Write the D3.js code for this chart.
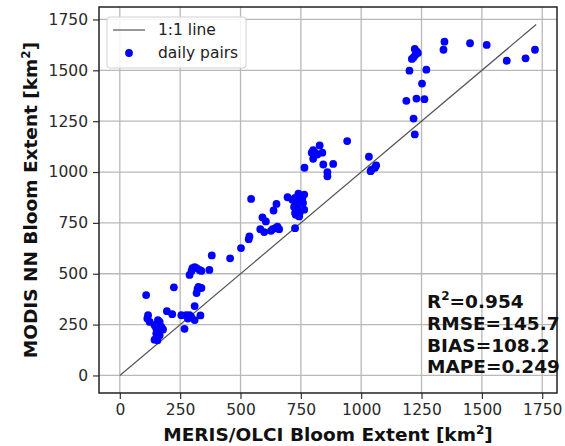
<!DOCTYPE html>
<html>
<head>
<meta charset="utf-8">
<script src="https://cdn.jsdelivr.net/npm/d3@7"></script>
<style>
  html, body { margin: 0; padding: 0; background: #fff; }
  svg { display: block; }
  text { font-family: "DejaVu Sans", sans-serif; }
</style>
</head>
<body>
<svg id="chart" width="565" height="446"></svg>
<script>
// ---- data ----
const ticks = [0, 250, 500, 750, 1000, 1250, 1500, 1750];
const oneToOne = [0, 1725];
const merisX = [
  109, 117, 114, 124, 158, 165, 144, 151, 158, 172, 179, 151, 158, 144, 165, 156,
  195, 217, 255, 275, 289, 296, 282, 334, 310, 268, 310,
  224, 326, 322, 318, 338,
  310, 301, 318, 330, 338, 297, 289, 371,
  381, 457, 502, 537, 534,
  544, 695, 715, 729, 726, 649, 637, 726, 591, 605, 653, 644, 660, 633, 582, 598, 626,
  740, 764, 756, 726, 759, 722, 736, 764, 729, 743, 726, 750, 745,
  942, 828, 801, 809, 795, 818, 839, 801, 843, 884, 765, 860, 860,
  1032, 1062, 1057, 1043, 1039,
  1187, 1229, 1262, 1200, 1270, 1252, 1217, 1222,
  1222, 1235, 1224, 1217, 1210, 1231,
  1345, 1341, 1451, 1520, 1603, 1681, 1720
];
const modisY = [
  395, 296, 280, 263, 272, 263, 247, 231, 222, 239, 226, 206, 189, 176, 198, 173,
  316, 301, 296, 296, 296, 288, 280, 295, 272, 229, 341,
  433, 435, 425, 405, 430,
  533, 528, 528, 519, 514, 514, 494, 519,
  590, 576, 626, 683, 670,
  868, 876, 864, 848, 835, 843, 811, 799, 777, 757, 732, 724, 719, 719, 719, 705, 711,
  894, 889, 868, 873, 848, 828, 823, 815, 790, 782, 724, 860, 800,
  1152, 1131, 1108, 1095, 1095, 1086, 1095, 1065, 1037, 1040, 1021, 999, 979,
  1075, 1032, 1021, 1012, 1004,
  1350, 1361, 1358, 1498, 1503, 1435, 1263, 1185,
  1605, 1585, 1575, 1564, 1556, 1592,
  1641, 1601, 1633, 1625, 1547, 1559, 1601
];
const legendLabels = ["1:1 line", "daily pairs"];
const statLabels = ["RMSE=145.7", "BIAS=108.2", "MAPE=0.249"];
const r2Value = "=0.954";
const xTitle = "MERIS/OLCI Bloom Extent [km";
const yTitle = "MODIS NN Bloom Extent [km";

const points = merisX.map((x, i) => ({x, y: modisY[i]}));

// ---- layout ----
const svg = d3.select("#chart");
const L = 99, R = 557, T = 7, B = 393;
const dom = [-86.25, 1811.25];
const x = d3.scaleLinear().domain(dom).range([L, R]);
const y = d3.scaleLinear().domain(dom).range([B, T]);

// grid
const grid = svg.append("g");
grid.selectAll("line.gx").data(ticks).join("line")
  .attr("x1", d => x(d)).attr("x2", d => x(d)).attr("y1", T).attr("y2", B)
  .attr("stroke", "#b8b8b8").attr("stroke-width", 1.3);
grid.selectAll("line.gy").data(ticks).join("line")
  .attr("y1", d => y(d)).attr("y2", d => y(d)).attr("x1", L).attr("x2", R)
  .attr("stroke", "#b8b8b8").attr("stroke-width", 1.3);

// 1:1 line
svg.append("line")
  .attr("x1", x(oneToOne[0])).attr("y1", y(oneToOne[0]))
  .attr("x2", x(oneToOne[1])).attr("y2", y(oneToOne[1]))
  .attr("stroke", "#555").attr("stroke-width", 1.2);

// points
svg.append("g").selectAll("circle").data(points).join("circle")
  .attr("cx", d => x(d.x)).attr("cy", d => y(d.y)).attr("r", 3.9)
  .attr("fill", "#0000ff");

// axes
const fmt = d3.format("d");
const xAxis = d3.axisBottom(x).tickValues(ticks).tickFormat(fmt).tickSize(6).tickPadding(5).tickSizeOuter(0);
const yAxis = d3.axisLeft(y).tickValues(ticks).tickFormat(fmt).tickSize(6).tickPadding(5).tickSizeOuter(0);
const gx = svg.append("g").attr("transform", `translate(0,${B})`).call(xAxis);
const gy = svg.append("g").attr("transform", `translate(${L},0)`).call(yAxis);
[gx, gy].forEach(g => {
  g.select(".domain").remove();
  g.selectAll(".tick line").attr("stroke", "#333").attr("stroke-width", 1.2);
  g.selectAll(".tick text").attr("font-family", "DejaVu Sans").attr("font-size", 15.5).attr("fill", "#2a2a2a");
});

// frame
svg.append("rect").attr("x", L).attr("y", T).attr("width", R - L).attr("height", B - T)
  .attr("fill", "none").attr("stroke", "#222").attr("stroke-width", 1.5);

// legend
const lg = svg.append("g");
lg.append("rect").attr("x", 107).attr("y", 17).attr("width", 139).attr("height", 51)
  .attr("rx", 3).attr("fill", "#fff").attr("fill-opacity", 0.85)
  .attr("stroke", "#d0d0d0").attr("stroke-width", 1);
lg.append("line").attr("x1", 113).attr("x2", 145).attr("y1", 30).attr("y2", 30)
  .attr("stroke", "#555").attr("stroke-width", 1.2);
lg.append("circle").attr("cx", 129).attr("cy", 53).attr("r", 3.9).attr("fill", "#0000ff");
lg.selectAll("text").data(legendLabels).join("text")
  .attr("x", 158).attr("y", (d, i) => 35 + i * 22.5)
  .attr("font-size", 15.5).attr("fill", "#222").text(d => d);

// stats
const st = svg.append("g").attr("font-weight", "bold").attr("font-size", 18.5).attr("fill", "#111");
const r2 = st.append("text").attr("x", 427).attr("y", 308);
r2.append("tspan").text("R");
r2.append("tspan").attr("dy", -8).attr("font-size", 12).text("2");
r2.append("tspan").attr("dy", 8).text(r2Value);
st.selectAll("text.s").data(statLabels).join("text").attr("class", "s")
  .attr("x", 427).attr("y", (d, i) => 330 + i * 21.5).text(d => d);

// axis titles
const xt = svg.append("text").attr("x", (L + R) / 2).attr("y", 441)
  .attr("text-anchor", "middle").attr("font-weight", "bold").attr("font-size", 18.5).attr("fill", "#111");
xt.append("tspan").text(xTitle);
xt.append("tspan").attr("dy", -7).attr("font-size", 12).text("2");
xt.append("tspan").attr("dy", 7).text("]");

const yt = svg.append("text").attr("transform", `translate(37,${(T + B) / 2}) rotate(-90)`)
  .attr("text-anchor", "middle").attr("font-weight", "bold").attr("font-size", 18.5).attr("fill", "#111");
yt.append("tspan").text(yTitle);
yt.append("tspan").attr("dy", -7).attr("font-size", 12).text("2");
yt.append("tspan").attr("dy", 7).text("]");
</script>
</body>
</html>
